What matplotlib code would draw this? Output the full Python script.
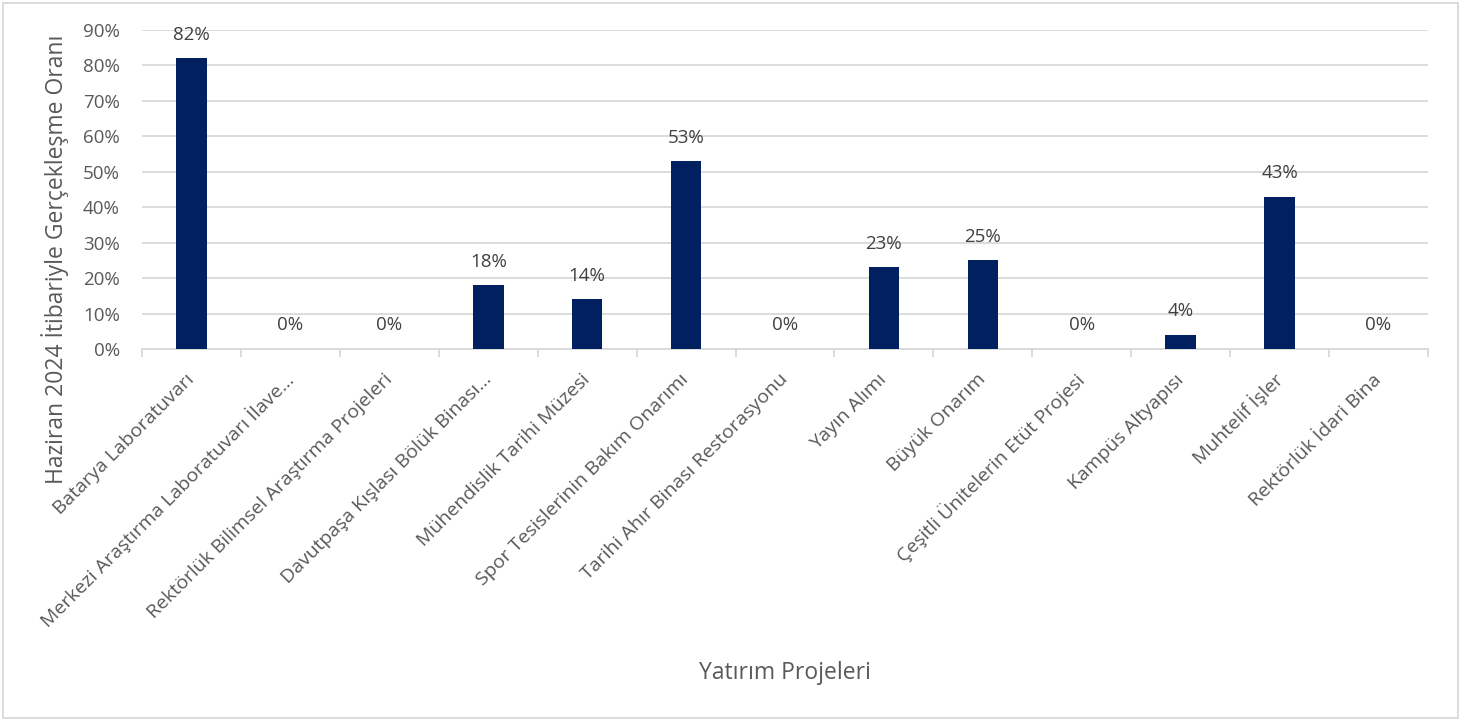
import matplotlib.pyplot as plt
import matplotlib.ticker as mticker
from matplotlib.patches import Rectangle
import numpy as np

plt.rcParams['font.family'] = ['Open Sans', 'DejaVu Sans']

projects = [
    "Batarya Laboratuvarı",
    "Merkezi Araştırma Laboratuvarı İlave...",
    "Rektörlük Bilimsel Araştırma Projeleri",
    "Davutpaşa Kışlası Bölük Binası...",
    "Mühendislik Tarihi Müzesi",
    "Spor Tesislerinin Bakım Onarımı",
    "Tarihi Ahır Binası Restorasyonu",
    "Yayın Alımı",
    "Büyük Onarım",
    "Çeşitli Ünitelerin Etüt Projesi",
    "Kampüs Altyapısı",
    "Muhtelif İşler",
    "Rektörlük İdari Bina",
]
rates = [82, 0, 0, 18, 14, 53, 0, 23, 25, 0, 4, 43, 0]

bar_color = "#002060"
grid_color = "#D9D9D9"
tick_color = "#595959"
label_color = "#404040"

fig = plt.figure(figsize=(14.81, 7.22), dpi=100)
ax = fig.add_axes([0.0959, 0.5166, 0.8683, 0.4418])

x = np.arange(len(projects))
bars = ax.bar(x, rates, width=0.31, color=bar_color, zorder=3)

for xi, v in zip(x, rates):
    ax.annotate(f"{v}%", (xi, v), xytext=(0, 10.5), textcoords="offset points",
                ha="center", va="bottom", fontsize=13.5, color=label_color)

ax.set_ylim(0, 90)
ax.set_xlim(-0.5, len(projects) - 0.5)
ax.set_yticks(np.arange(0, 91, 10))
ax.yaxis.set_major_formatter(mticker.FuncFormatter(lambda v, p: f"{int(v)}%"))
ax.grid(axis="y", color=grid_color, linewidth=1.3, zorder=0)

for s in ["top", "right", "left"]:
    ax.spines[s].set_visible(False)
ax.spines["bottom"].set_color(grid_color)
ax.spines["bottom"].set_linewidth(1.3)

ax.tick_params(axis="y", length=0, labelsize=13.5, labelcolor=tick_color, pad=16)
ax.set_xticks(x)
ax.set_xticklabels(projects, rotation=45, ha="right", va="center",
                   rotation_mode="anchor", fontsize=14, color=tick_color)
ax.tick_params(axis="x", which="major", length=0, pad=20)
ax.set_xticks(np.arange(-0.5, len(projects), 1), minor=True)
ax.tick_params(axis="x", which="minor", length=6, width=1.3, color=grid_color)

fig.text(0.037, 0.641, "Haziran 2024 İtibariyle Gerçekleşme Oranı", rotation=90,
         ha="center", va="center", fontsize=16.5, color=tick_color)
fig.text(0.530, 0.068, "Yatırım Projeleri", ha="center", va="center",
         fontsize=16.5, color=tick_color)

fig.patches.append(Rectangle((0.002, 0.0055), 0.9825, 0.99, transform=fig.transFigure,
                             fill=False, edgecolor=grid_color, linewidth=1.3))

fig.savefig("out.png", dpi=100)
